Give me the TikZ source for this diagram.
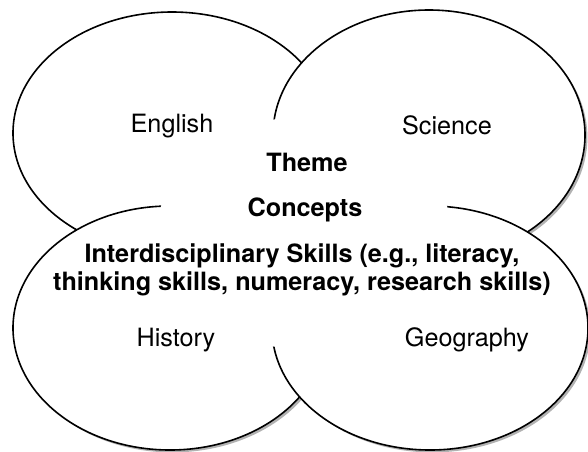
\documentclass[tikz,border=0pt]{standalone}
\usepackage{fontspec}
\setmainfont{TeX Gyre Heros}
\usetikzlibrary{shapes.geometric,shadows}

\begin{document}
\begin{tikzpicture}[
    x=0.5pt, y=-0.5pt,
    % --- STYLES ---
    subject/.style={
        ellipse, draw=black, fill=white,
        line width=0.8pt, inner sep=0pt,
        drop shadow={shadow xshift=1.2pt, shadow yshift=-1.2pt,
                     fill=black, opacity=0.3}
    },
    hole/.style={ellipse, fill=white, inner sep=0pt},
    subjlabel/.style={font=\fontsize{12.6}{14}\selectfont},
    corelabel/.style={font=\fontsize{12.6}{14}\selectfont\bfseries, align=center}
]

\useasboundingbox (0,0) rectangle (588,451);

% ===== 1. SUBJECT ELLIPSES =====
\node[subject, minimum width=159pt, minimum height=121pt] (english) at (172,133) {};
\node[subject, minimum width=156pt, minimum height=125pt] (science) at (429,135) {};
\node[subject, minimum width=157pt, minimum height=122pt] (history) at (170,328) {};
\node[subject, minimum width=158pt, minimum height=122pt] (geography) at (430,328) {};

% ===== 2. SHARED CENTRE =====
% blank middle, cuts the inner arcs
\node[hole, minimum width=147pt, minimum height=116pt] (centre) at (304,233) {};

% ===== 3. LABELS =====
\node[subjlabel] (englishtxt) at (172,126) {English};
\node[subjlabel] (sciencetxt) at (447,125) {Science};
\node[subjlabel] (historytxt) at (176,340) {History};
\node[subjlabel] (geographytxt) at (467,340) {Geography};

\node[corelabel] (theme) at (307,162) {Theme};
\node[corelabel] (concepts) at (305,210) {Concepts};
\node[corelabel] (skills) at (302,270) {Interdisciplinary Skills (e.g., literacy,\\ thinking skills, numeracy, research skills)};

\end{tikzpicture}
\end{document}
